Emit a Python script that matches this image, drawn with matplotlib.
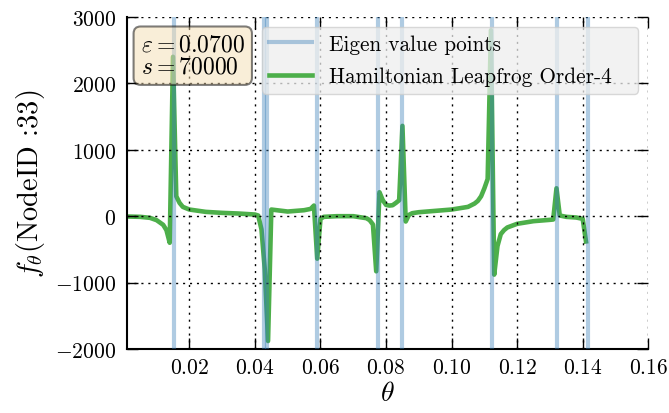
import matplotlib
matplotlib.use("Agg")
import matplotlib.pyplot as plt
from matplotlib.ticker import FuncFormatter, MultipleLocator

plt.rcParams['mathtext.fontset'] = 'cm'
plt.rcParams['font.family'] = ['cmr10', 'DejaVu Serif']
plt.rcParams['axes.unicode_minus'] = False

# Data
theta = [0.001, 0.005, 0.008, 0.010, 0.012, 0.013, 0.014, 0.015, 0.016, 0.017,
         0.018, 0.020, 0.025, 0.030, 0.035, 0.040, 0.041, 0.042, 0.043, 0.044,
         0.045, 0.050, 0.055, 0.057, 0.058, 0.059, 0.060, 0.061, 0.065, 0.070,
         0.074, 0.075, 0.076, 0.077, 0.078, 0.079, 0.080, 0.081, 0.082, 0.083,
         0.084, 0.085, 0.086, 0.087, 0.088, 0.090, 0.095, 0.100, 0.105, 0.107,
         0.108, 0.109, 0.110, 0.111, 0.112, 0.113, 0.114, 0.115, 0.116, 0.117,
         0.120, 0.125, 0.130, 0.131, 0.132, 0.133, 0.135, 0.138, 0.140, 0.141]
f_theta = [-5, -10, -25, -60, -130, -210, -400, 2400, 300, 200,
           140, 100, 65, 50, 40, 25, 10, -200, -800, -1880,
           100, 70, 90, 110, 160, -640, -40, -10, 0, 0,
           -30, -60, -125, -830, 360, 240, 170, 160, 165, 200,
           240, 1360, -80, 20, 45, 60, 80, 100, 140, 190,
           230, 300, 420, 560, 2800, -880, -450, -270, -210, -170,
           -115, -75, -55, -50, 420, 10, -10, -20, -40, -380]
eigen_points = [0.0154, 0.0428, 0.0437, 0.0590, 0.0774, 0.0850, 0.1123, 0.1323, 0.1416]

epsilon_label = r'$\varepsilon = 0.0700$'
s_label = r'$s = 70000$'

fig = plt.figure(figsize=(6.69, 4.14), dpi=100)
ax = fig.add_axes([0.190, 0.1546, 0.779, 0.802])

for i, e in enumerate(eigen_points):
    ax.axvline(e, color='#377eb8', alpha=0.4, lw=3.0, zorder=3,
               label='Eigen value points' if i == 0 else None)
ax.plot(theta, f_theta, color='#4daf4a', lw=3.3, zorder=2,
        label='Hamiltonian Leapfrog Order-4')

ax.set_xlim(0.001, 0.16)
ax.set_ylim(-2000, 3000)
ax.xaxis.set_major_locator(MultipleLocator(0.02))
ax.yaxis.set_major_locator(MultipleLocator(1000))
ax.xaxis.set_major_formatter(FuncFormatter(lambda v, p: f'${v:.2f}$'))
ax.yaxis.set_major_formatter(FuncFormatter(lambda v, p: f'${v:g}$'))

ax.grid(True, color='black', linestyle=(0, (1.5, 3.5)), lw=1.0, zorder=5)
ax.set_axisbelow(False)
for side in ['top', 'right']:
    ax.spines[side].set_visible(False)
for side in ['left', 'bottom']:
    ax.spines[side].set_linewidth(1.5)
    ax.spines[side].set_color('black')
ax.tick_params(direction='in', length=8, width=1.0, top=True, right=True,
               labelsize=15.5)
ax.tick_params(axis='x', pad=6)
ax.tick_params(axis='y', pad=8)

ax.set_xlabel(r'$\theta$', fontsize=20, labelpad=2)
ax.set_ylabel(r'$f_{\theta}$(NodeID :33)', fontsize=20.5, labelpad=6)

leg = ax.legend(loc='upper left', bbox_to_anchor=(0.2585, 0.0, 0.7215, 0.970),
                mode='expand', fontsize=15.3, frameon=True, fancybox=True,
                facecolor='#eeeeee', edgecolor='#cccccc', framealpha=0.75,
                borderaxespad=0.0, handlelength=2.0, labelspacing=0.6,
                borderpad=0.35)
leg.set_zorder(10)

ax.text(0.026, 0.95, epsilon_label + '\n' + s_label, transform=ax.transAxes,
        fontsize=17, va='top', ha='left', zorder=11, linespacing=1.0,
        bbox=dict(boxstyle='round,pad=0.3', facecolor='#f5deb3', alpha=0.5,
                  edgecolor='black', lw=1.5))

fig.savefig('out.png', dpi=100)
